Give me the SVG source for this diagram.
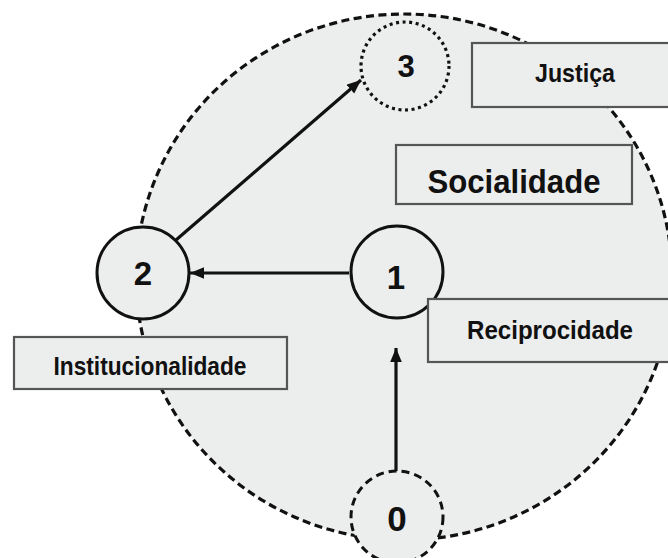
<svg xmlns="http://www.w3.org/2000/svg" width="668" height="558" viewBox="0 0 668 558">
  <style>
    .bg { fill: #ffffff; }
    .field { fill: #ECEDED; stroke: #111; stroke-width: 3.2; stroke-dasharray: 8 4.5; }
    .node { fill: #ECEDED; stroke: #111; stroke-width: 3; }
    .dashed { stroke-dasharray: 8 5; stroke-width: 3; }
    .dotted { stroke-dasharray: 3 3.6; stroke-width: 3.2; }
    .box { fill: #ECEDED; stroke: #555; stroke-width: 2.2; }
    .num { font-family: "Liberation Sans", Arial, sans-serif; font-weight: bold; fill: #111; text-anchor: middle; }
    .lbl { font-family: "Liberation Sans", Arial, sans-serif; font-weight: bold; fill: #111; text-anchor: middle; }
    .conn { stroke: #111; stroke-width: 3.2; fill: none; marker-end: url(#arrow); }
  </style>
  <defs>
    <marker id="arrow" markerUnits="userSpaceOnUse" viewBox="0 0 12 10" refX="12" refY="5" markerWidth="14" markerHeight="12" orient="auto">
      <path d="M0,0 L12,5 L0,10 Z" fill="#111"/>
    </marker>
  </defs>
  <rect class="bg" x="0" y="0" width="668" height="558"/>

  <g id="socialidade-field">
    <ellipse class="field" cx="404" cy="277" rx="268" ry="263"/>
  </g>

  <g id="connectors">
    <line class="conn" x1="349" y1="273" x2="190" y2="273"/>
    <line class="conn" x1="176" y1="240" x2="361" y2="80"/>
    <line class="conn" x1="396" y1="471" x2="396" y2="348"/>
  </g>

  <g id="node-3">
    <circle class="node dotted" cx="405" cy="66" r="44"/>
    <text class="num" x="406" y="77" font-size="31">3</text>
  </g>
  <g id="node-2">
    <circle class="node" cx="143" cy="273" r="46"/>
    <text class="num" x="143" y="285" font-size="33">2</text>
  </g>
  <g id="node-1">
    <circle class="node" cx="397" cy="272" r="46"/>
    <text class="num" x="396" y="289" font-size="33">1</text>
  </g>
  <g id="node-0">
    <circle class="node dashed" cx="397" cy="517" r="46"/>
    <text class="num" x="397" y="531" font-size="35">0</text>
  </g>

  <g id="label-justica">
    <rect class="box" x="472" y="43" width="210" height="64"/>
    <text class="lbl" x="575" y="82" font-size="26" textLength="80" lengthAdjust="spacingAndGlyphs">Justiça</text>
  </g>
  <g id="label-socialidade">
    <rect class="box" x="396" y="145" width="236" height="59"/>
    <text class="lbl" x="514" y="193" font-size="33" textLength="173" lengthAdjust="spacingAndGlyphs">Socialidade</text>
  </g>
  <g id="label-reciprocidade">
    <rect class="box" x="428" y="299" width="250" height="63"/>
    <text class="lbl" x="550" y="339" font-size="26" textLength="166" lengthAdjust="spacingAndGlyphs">Reciprocidade</text>
  </g>
  <g id="label-institucionalidade">
    <rect class="box" x="14" y="337" width="273" height="52"/>
    <text class="lbl" x="150" y="375" font-size="25" textLength="193" lengthAdjust="spacingAndGlyphs">Institucionalidade</text>
  </g>
</svg>
